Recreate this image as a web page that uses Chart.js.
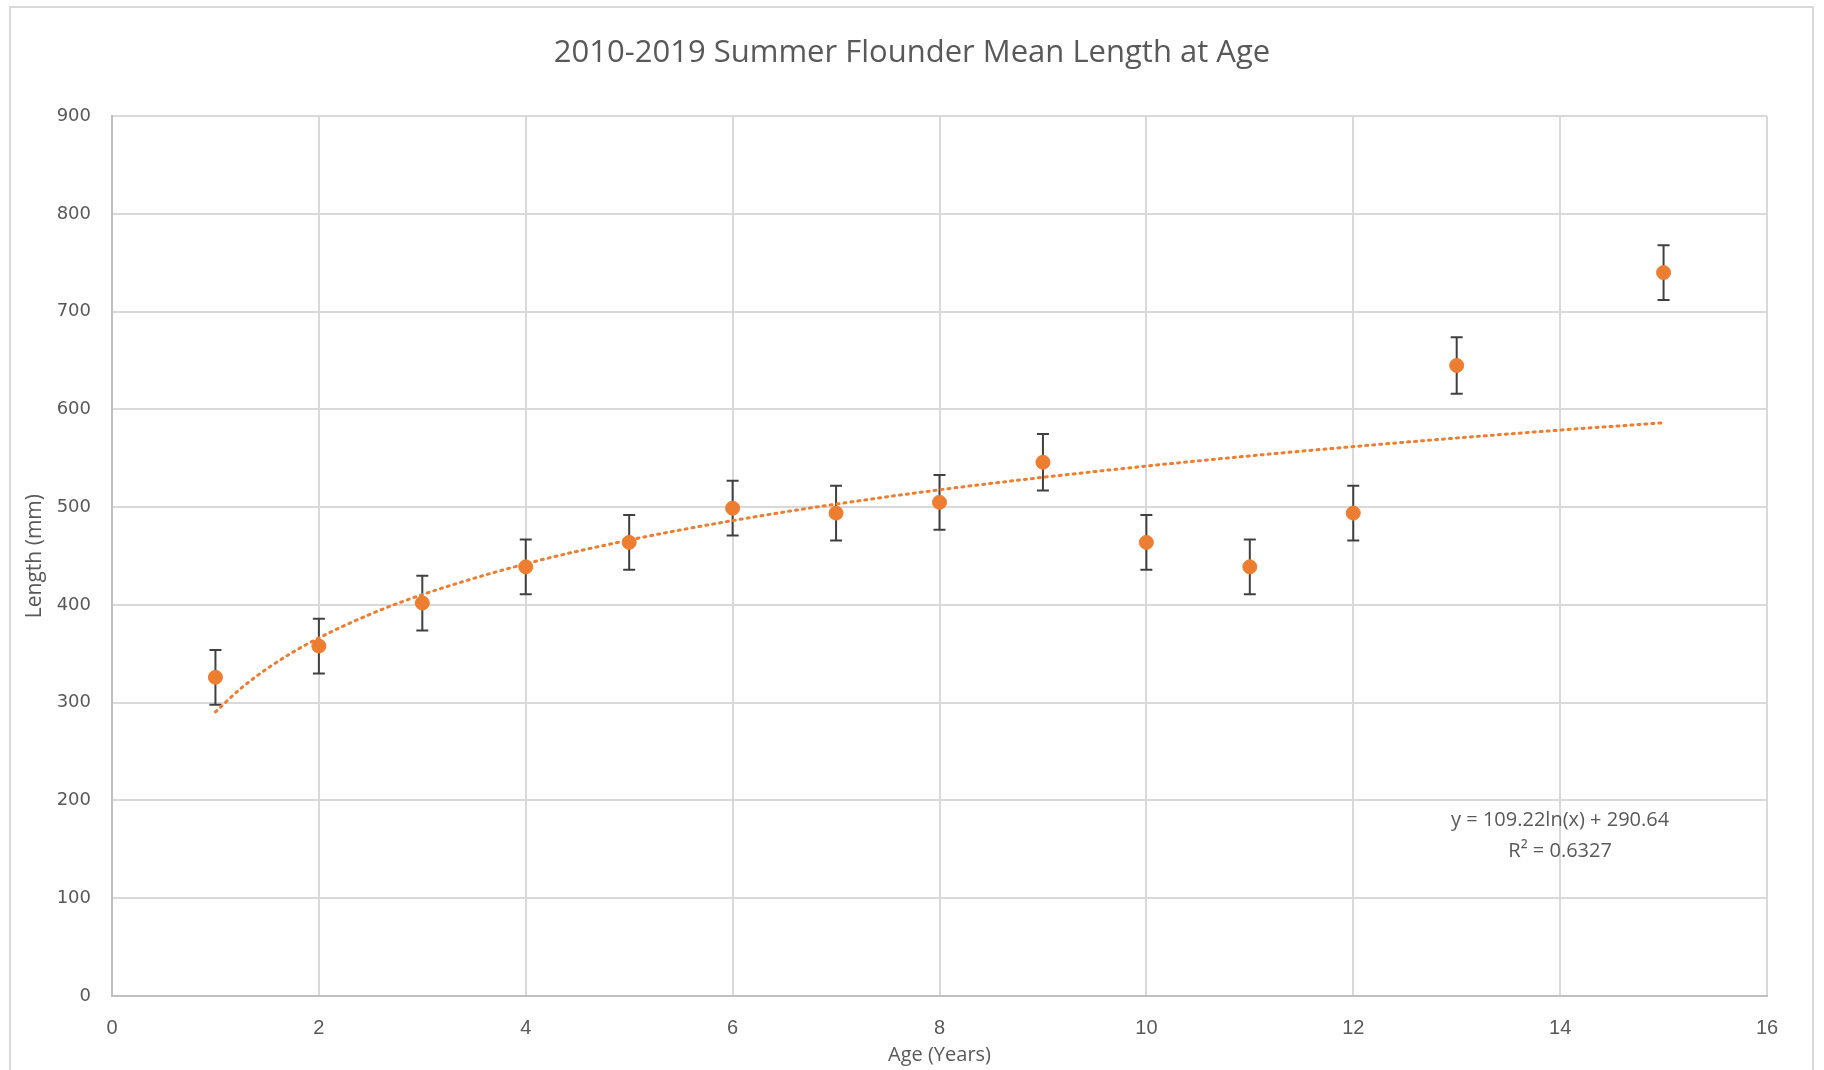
<!DOCTYPE html>
<html>
<head>
<meta charset="utf-8">
<script src="https://cdn.jsdelivr.net/npm/chart.js@4.4.1/dist/chart.umd.min.js"></script>
<style>
  html, body { margin: 0; padding: 0; background: #fff; }
  #wrap { width: 1824px; height: 1070px; }
</style>
</head>
<body>
<div id="wrap"><canvas id="grafico"></canvas></div>
<script>
// dados
const idades = [1, 2, 3, 4, 5, 6, 7, 8, 9, 10, 11, 12, 13, 15];
const comprimentoMedio = [326, 358, 402, 439, 464, 499, 494, 505, 546, 464, 439, 494, 645, 740];
const erroPadrao = [28, 28, 28, 28, 28, 28, 28, 28, 29, 28, 28, 28, 29, 28];

// linha de tendência (log)
const idadesTendencia = [1, 1.25, 1.5, 1.75, 2, 2.5, 3, 4, 5, 6, 7, 8, 9, 10, 11, 12, 13, 14, 15];
const valoresTendencia = [290.6, 315.0, 334.9, 351.8, 366.3, 390.7, 410.6, 442.1, 466.4, 486.3, 503.2, 517.8, 530.6, 542.1, 552.5, 562.0, 570.8, 578.9, 586.4];

const ticksX = [0, 2, 4, 6, 8, 10, 12, 14, 16];
const ticksY = [0, 100, 200, 300, 400, 500, 600, 700, 800, 900];
const equacao = ['y = 109.22ln(x) + 290.64', 'R² = 0.6327'];

const laranja = '#ED7D31';
const cinzaTexto = '#595959';

// moldura externa do gráfico
const moldura = {
    id: 'moldura',
    beforeDraw(chart) {
        const ctx = chart.ctx;
        ctx.save();
        ctx.fillStyle = '#fff';
        ctx.fillRect(0, 0, chart.width, chart.height);
        ctx.strokeStyle = '#d9d9d9';
        ctx.lineWidth = 2;
        ctx.strokeRect(10, 7, 1803, 1100);
        ctx.restore();
    }
};

// barras de erro desenhadas atrás dos pontos
const barrasErro = {
    id: 'barrasErro',
    beforeDatasetsDraw(chart) {
        const ctx = chart.ctx;
        const x = chart.scales.x;
        const y = chart.scales.y;
        ctx.save();
        ctx.strokeStyle = '#404040';
        ctx.lineWidth = 2;
        idades.forEach((idade, i) => {
            const px = x.getPixelForValue(idade);
            const topo = y.getPixelForValue(comprimentoMedio[i] + erroPadrao[i]);
            const base = y.getPixelForValue(comprimentoMedio[i] - erroPadrao[i]);
            ctx.beginPath();
            ctx.moveTo(px, topo);
            ctx.lineTo(px, base);
            ctx.moveTo(px - 6, topo);
            ctx.lineTo(px + 6, topo);
            ctx.moveTo(px - 6, base);
            ctx.lineTo(px + 6, base);
            ctx.stroke();
        });
        ctx.restore();
    }
};

// texto da equação da tendência
const textoEquacao = {
    id: 'textoEquacao',
    afterDatasetsDraw(chart) {
        const ctx = chart.ctx;
        const px = chart.scales.x.getPixelForValue(14);
        ctx.save();
        ctx.fillStyle = cinzaTexto;
        ctx.font = '20px "Open Sans"';
        ctx.textAlign = 'center';
        ctx.textBaseline = 'middle';
        ctx.fillText(equacao[0], px, chart.scales.y.getPixelForValue(180));
        ctx.fillText(equacao[1], px, chart.scales.y.getPixelForValue(148));
        ctx.restore();
    }
};

const ctx = document.getElementById('grafico');
new Chart(ctx, {
    type: 'scatter',
    data: {
        datasets: [{
            label: 'Comprimento médio',
            data: idades.map((a, i) => ({ x: a, y: comprimentoMedio[i] })),
            backgroundColor: laranja,
            borderColor: laranja,
            pointRadius: 7,
            pointHoverRadius: 7,
            order: 0
        }, {
            label: 'Tendência',
            data: idadesTendencia.map((a, i) => ({ x: a, y: valoresTendencia[i] })),
            showLine: true,
            borderColor: laranja,
            borderWidth: 3,
            borderDash: [2, 5],
            borderCapStyle: 'round',
            cubicInterpolationMode: 'monotone',
            pointRadius: 0,
            order: 1
        }]
    },
    options: {
        responsive: true,
        maintainAspectRatio: false,
        animation: false,
        layout: { padding: 0 },
        plugins: {
            legend: { display: false },
            tooltip: { enabled: false },
            title: {
                display: true,
                text: '2010-2019 Summer Flounder Mean Length at Age',
                color: cinzaTexto,
                font: { family: '"Open Sans"', size: 31, weight: 'normal' },
                padding: { top: 35, bottom: 44 }
            }
        },
        scales: {
            x: {
                type: 'linear',
                min: 0,
                max: 16,
                afterBuildTicks: s => { s.ticks = ticksX.map(v => ({ value: v })); },
                afterFit: s => { s.height = 74; },
                grid: { color: '#d9d9d9', lineWidth: 2, drawTicks: false },
                border: { color: '#bfbfbf', width: 2 },
                ticks: {
                    color: cinzaTexto,
                    padding: 20,
                    font: { family: '"Liberation Sans Narrow", "Liberation Sans"', size: 20 }
                },
                title: {
                    display: true,
                    text: 'Age (Years)',
                    color: cinzaTexto,
                    font: { family: '"Open Sans"', size: 20 },
                    padding: { top: 0, bottom: 3 }
                }
            },
            y: {
                min: 0,
                max: 900,
                afterBuildTicks: s => { s.ticks = ticksY.map(v => ({ value: v })); },
                afterFit: s => { s.width = 112; },
                grid: { color: '#d9d9d9', lineWidth: 2, drawTicks: false },
                border: { color: '#bfbfbf', width: 2 },
                ticks: {
                    color: cinzaTexto,
                    padding: 21,
                    font: { family: '"DejaVu Sans"', size: 18 }
                },
                title: {
                    display: true,
                    text: 'Length (mm)',
                    color: cinzaTexto,
                    font: { family: '"Open Sans"', size: 21 },
                    padding: { top: 22, bottom: 0 }
                }
            },
            // eixo vazio só para reservar a margem da direita
            margemDireita: {
                position: 'right',
                min: 0,
                max: 900,
                afterFit: s => { s.width = 57; },
                grid: { display: false, drawOnChartArea: false },
                border: { display: false },
                ticks: { display: false }
            }
        }
    },
    plugins: [moldura, barrasErro, textoEquacao]
});
</script>
</body>
</html>
